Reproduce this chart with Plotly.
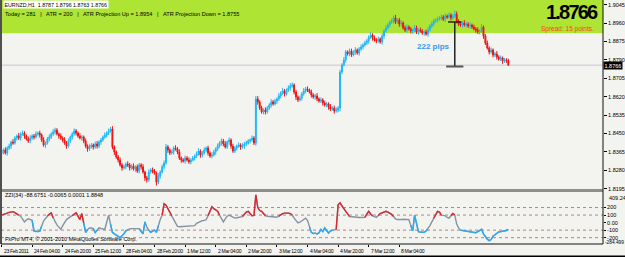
import plotly.graph_objects as go

# ---------------- data ----------------
first_open = 1.8355
closes = [
    1.8365, 1.8374, 1.8360, 1.8383, 1.8392, 1.8411, 1.8406, 1.8429, 1.8439, 1.8429,
    1.8448, 1.8452, 1.8439, 1.8425, 1.8416, 1.8429, 1.8439, 1.8434, 1.8448, 1.8452,
    1.8443, 1.8420, 1.8397, 1.8406, 1.8425, 1.8434, 1.8448, 1.8457, 1.8466, 1.8448,
    1.8439, 1.8429, 1.8420, 1.8406, 1.8392, 1.8416, 1.8434, 1.8448, 1.8462, 1.8452,
    1.8439, 1.8429, 1.8434, 1.8416, 1.8392, 1.8379, 1.8388, 1.8397, 1.8388, 1.8402,
    1.8392, 1.8411, 1.8420, 1.8434, 1.8443, 1.8452, 1.8462, 1.8471, 1.8388, 1.8365,
    1.8342, 1.8328, 1.8305, 1.8291, 1.8296, 1.8309, 1.8305, 1.8291, 1.8300, 1.8286,
    1.8296, 1.8277, 1.8305, 1.8296, 1.8272, 1.8245, 1.8236, 1.8272, 1.8282, 1.8277,
    1.8268, 1.8226, 1.8254, 1.8272, 1.8296, 1.8314, 1.8388, 1.8374, 1.8360, 1.8365,
    1.8383, 1.8379, 1.8365, 1.8337, 1.8328, 1.8323, 1.8337, 1.8328, 1.8319, 1.8328,
    1.8337, 1.8346, 1.8356, 1.8369, 1.8351, 1.8360, 1.8374, 1.8383, 1.8360, 1.8346,
    1.8351, 1.8365, 1.8379, 1.8392, 1.8406, 1.8416, 1.8402, 1.8388, 1.8411, 1.8420,
    1.8392, 1.8369, 1.8383, 1.8392, 1.8397, 1.8388, 1.8392, 1.8402, 1.8406, 1.8416,
    1.8420, 1.8429, 1.8406, 1.8610, 1.8596, 1.8568, 1.8550, 1.8559, 1.8550, 1.8568,
    1.8582, 1.8596, 1.8587, 1.8600, 1.8610, 1.8624, 1.8637, 1.8647, 1.8633, 1.8651,
    1.8661, 1.8670, 1.8674, 1.8642, 1.8619, 1.8605, 1.8614, 1.8633, 1.8647, 1.8656,
    1.8651, 1.8642, 1.8628, 1.8619, 1.8624, 1.8610, 1.8600, 1.8605, 1.8591, 1.8582,
    1.8587, 1.8573, 1.8563, 1.8568, 1.8554, 1.8559, 1.8568, 1.8734, 1.8767, 1.8790,
    1.8827, 1.8818, 1.8831, 1.8813, 1.8827, 1.8836, 1.8822, 1.8841, 1.8850, 1.8859,
    1.8868, 1.8878, 1.8896, 1.8905, 1.8891, 1.8882, 1.8878, 1.8887, 1.8873, 1.8901,
    1.8924, 1.8938, 1.8951, 1.8965, 1.8970, 1.8984, 1.8965, 1.8975, 1.8956, 1.8961,
    1.8938, 1.8928, 1.8942, 1.8933, 1.8924, 1.8928, 1.8938, 1.8919, 1.8928, 1.8924,
    1.8915, 1.8919, 1.8910, 1.8928, 1.8947, 1.8956, 1.8970, 1.8975, 1.8979, 1.8984,
    1.8988, 1.8979, 1.8993, 1.8988, 1.8998, 1.8984, 1.8993, 1.9002, 1.8970, 1.8956,
    1.8951, 1.8961, 1.8951, 1.8956, 1.8947, 1.8951, 1.8942, 1.8933, 1.8928, 1.8919,
    1.8924, 1.8942, 1.8901, 1.8868, 1.8845, 1.8827, 1.8836, 1.8813, 1.8818, 1.8804,
    1.8794, 1.8799, 1.8785, 1.8790, 1.8787, 1.8766,
]
wick_up_pips = [
    10, 7, 12, 8, 11, 6, 13, 9, 7, 14, 8, 12, 9, 7, 11, 13, 8, 9, 12, 7,
    11, 8, 13, 7, 9, 12, 8, 14, 11, 9, 7, 12, 8, 13, 9, 11, 7, 8, 12, 9,
    8, 13, 9, 7, 11, 8, 12, 9, 7, 11, 13, 8, 9, 7, 12, 8, 11, 9, 13, 8,
    7, 9, 12, 8, 11, 7, 13, 9, 8, 12, 7, 11, 9, 8, 13, 7, 9, 12, 8, 11,
    9, 7, 13, 8, 11, 12, 14, 9, 7, 11, 8, 13, 9, 12, 7, 8, 11, 9, 12, 8,
    9, 7, 11, 13, 8, 9, 12, 7, 11, 8, 13, 9, 7, 12, 8, 11, 9, 13, 7, 12,
    8, 11, 9, 7, 12, 8, 13, 9, 11, 8, 7, 12, 9, 14, 13, 8, 11, 7, 12, 9,
    8, 13, 9, 11, 7, 12, 8, 14, 9, 7, 11, 13, 12, 8, 9, 7, 11, 8, 13, 9,
    12, 7, 11, 8, 9, 13, 7, 12, 8, 11, 9, 7, 13, 8, 11, 12, 9, 11, 8, 13,
    9, 7, 12, 11, 8, 13, 7, 9, 12, 8, 11, 9, 7, 13, 8, 12, 9, 11, 7, 12,
    8, 13, 9, 7, 12, 11, 14, 8, 9, 13, 7, 11, 12, 8, 9, 7, 13, 11, 8, 12,
    9, 7, 11, 13, 8, 12, 9, 7, 11, 8, 13, 9, 12, 7, 11, 8, 9, 16, 12, 8,
    11, 7, 13, 9, 8, 12, 7, 11, 9, 13, 8, 14, 7, 9, 12, 8, 11, 7, 9, 13,
    8, 11, 7, 9, 8, 9,
]
wick_dn_pips = [
    8, 11, 7, 12, 9, 13, 8, 7, 11, 9, 12, 8, 13, 7, 9, 11, 8, 12, 7, 9,
    12, 9, 8, 13, 7, 11, 9, 8, 12, 7, 13, 9, 11, 8, 12, 7, 9, 13, 8, 11,
    9, 7, 12, 11, 8, 13, 9, 7, 12, 8, 11, 9, 13, 7, 8, 12, 9, 7, 11, 14,
    9, 12, 8, 13, 7, 11, 9, 12, 8, 7, 13, 9, 11, 12, 8, 14, 13, 9, 7, 11,
    8, 16, 9, 12, 7, 11, 8, 13, 9, 7, 12, 8, 11, 9, 13, 7, 12, 8, 9, 11,
    7, 12, 9, 8, 13, 11, 7, 9, 12, 8, 11, 7, 13, 9, 8, 12, 11, 7, 9, 13,
    12, 8, 9, 11, 7, 13, 8, 12, 9, 7, 11, 8, 9, 12, 13, 9, 8, 11, 12, 7,
    9, 12, 8, 7, 13, 9, 11, 8, 12, 7, 9, 13, 8, 11, 14, 9, 7, 12, 8, 11,
    9, 7, 12, 8, 13, 11, 7, 9, 12, 8, 11, 13, 9, 7, 12, 8, 11, 14, 9, 7,
    12, 8, 11, 9, 7, 13, 8, 12, 9, 11, 7, 9, 13, 8, 12, 7, 11, 9, 8, 12,
    13, 7, 9, 11, 8, 12, 9, 7, 13, 11, 8, 9, 12, 7, 11, 13, 8, 9, 12, 7,
    9, 13, 8, 12, 7, 11, 9, 8, 12, 7, 11, 9, 13, 8, 7, 12, 9, 8, 11, 9,
    8, 12, 7, 11, 9, 13, 8, 7, 12, 9, 11, 8, 13, 9, 7, 12, 8, 11, 9, 12,
    7, 9, 13, 8, 11, 3,
]
zzi = [
    100, 105, 110, 125, 135, 142, 145, 132, 120, 100,
    85, 45, 10, 35, 50, 40, 30, -110, -118, -120,
    -115, -50, 20, 55, 90, 115, 130, 60, 15, -30,
    -60, -90, -40, 10, 40, 60, 75, 90, 110, 130,
    85, 40, 120, -10, -130, -95, -70, -72, -80, -130,
    -100, -70, -78, -85, -90, 5, 100, -20, -130, -150,
    -170, -185, -200, -175, -150, -110, -95, -85, -80, -82,
    -78, -80, -80, -120, -150, 10, -60, -100, -130, -115,
    -100, -130, -40, 40, 100, 250, 230, 190, 140, 90,
    40, -10, -50, -55, -52, -50, -50, -48, -45, -42,
    -40, -40, -10, 5, 20, 25, 30, 40, 90, 150,
    210, 185, 170, 150, 100, 50, 10, 50, 85, 100,
    90, 75, 60, 65, 70, 75, 80, 110, 140, 150,
    120, 90, 95, 370, 200, 160, 150, 120, 90, 85,
    80, 78, 75, 72, 70, 85, 105, 120, 125, 128,
    125, 120, 100, 60, 25, -5, 5, 20, 40, 60,
    30, -60, -130, -145, -140, -150, -135, -90, -120, -70,
    -110, -140, -110, -100, -100, -90, 235, 262, 220, 180,
    150, 115, 80, 75, 72, 70, 70, 68, 70, 68,
    70, 120, 150, 115, 90, 80, 70, 95, 120, 130,
    145, 150, 140, 125, 110, 80, 50, 40, 38, 40,
    45, 42, 40, 40, -40, -110, 100, -20, -120, -125,
    -130, -130, -110, -80, -40, 10, 60, 110, 150, 140,
    100, 95, 90, 70, 60, 90, 120, 100, -20, -70,
    -100, -105, -110, -115, -125, -130, -132, -135, -135, -120,
    -100, -90, -150, -190, -220, -240, -225, -180, -160, -140,
    -125, -120, -118, -115, -105, -89,
]
x_tick_bars = [0, 16, 32, 48, 64, 80, 96, 112, 128, 144, 160, 176, 192, 208]
x_tick_labels = ["23 Feb 2011", "24 Feb 04:00", "24 Feb 20:00", "25 Feb 12:00",
                 "28 Feb 04:00", "28 Feb 20:00", "1 Mar 12:00", "2 Mar 04:00",
                 "2 Mar 20:00", "3 Mar 12:00", "4 Mar 04:00", "4 Mar 20:00",
                 "7 Mar 12:00", "8 Mar 04:00"]
price_ticks = [1.9045, 1.8960, 1.8875, 1.8790, 1.8705, 1.8620, 1.8535,
               1.8450, 1.8365, 1.8280, 1.8195]
zzi_max = 409.24
zzi_min = -284.499
zzi_ticks = [200, 100, 0, -100, -200]
zzi_tick_labels = ["200", "100", "0.00", "-100", "-200"]
zzi_levels = [200, 100, -100, -200]
bid_price = 1.8766
green_zone_low = 1.8913
bracket_bar = 237
bracket_top = 1.8965
bracket_bottom = 1.8760
pips_label_bar = 226
pips_label_price = 1.8850

assert len(closes) == len(wick_up_pips) == len(wick_dn_pips) == len(zzi) == 266

# ---------------- derived ----------------
n = len(closes)
bars = list(range(n))
opens = [first_open] + closes[:-1]
highs = [round(max(o, c) + u / 10000, 4) for o, c, u in zip(opens, closes, wick_up_pips)]
lows = [round(min(o, c) - d / 10000, 4) for o, c, d in zip(opens, closes, wick_dn_pips)]

def masked(vals, test):
    out = []
    for i, v in enumerate(vals):
        near = test(v) or (i > 0 and test(vals[i - 1])) or (i < len(vals) - 1 and test(vals[i + 1]))
        out.append(v if near else None)
    return out

zzi_red = masked(zzi, lambda v: v > 100)
zzi_blue = masked(zzi, lambda v: v < -100)

UP = "#1FB7F5"
DN = "#EE1414"
BG = "#F3F3EF"
FONT = "Liberation Sans, Arial, sans-serif"

Y_TOP = 1.9067
Y_BOT = 1.81915

fig = go.Figure()
fig.add_trace(go.Candlestick(
    x=bars, open=opens, high=highs, low=lows, close=closes,
    increasing=dict(line=dict(color=UP, width=1), fillcolor=UP),
    decreasing=dict(line=dict(color=DN, width=1), fillcolor=DN),
    whiskerwidth=0, showlegend=False, hoverinfo="skip",
    xaxis="x", yaxis="y"))
fig.add_trace(go.Scatter(x=bars, y=zzi, mode="lines",
                         line=dict(color="#8592A4", width=1.4),
                         xaxis="x2", yaxis="y2", showlegend=False, hoverinfo="skip"))
fig.add_trace(go.Scatter(x=bars, y=zzi_red, mode="lines", connectgaps=False,
                         line=dict(color="#DC2830", width=1.4),
                         xaxis="x2", yaxis="y2", showlegend=False, hoverinfo="skip"))
fig.add_trace(go.Scatter(x=bars, y=zzi_blue, mode="lines", connectgaps=False,
                         line=dict(color="#2AAAF0", width=1.4),
                         xaxis="x2", yaxis="y2", showlegend=False, hoverinfo="skip"))

shapes = []
shapes.append(dict(type="rect", xref="paper", yref="y", x0=0, x1=1,
                   y0=green_zone_low, y1=Y_TOP, fillcolor="#AEE534",
                   line=dict(width=0), layer="below"))
shapes.append(dict(type="line", xref="paper", yref="y", x0=0, x1=1,
                   y0=bid_price, y1=bid_price, line=dict(color="#C6C6D2", width=1),
                   layer="below"))
for lv in zzi_levels:
    shapes.append(dict(type="line", xref="paper", yref="y2", x0=0, x1=1,
                       y0=lv, y1=lv, line=dict(color="#B08686", width=1, dash="dot"),
                       layer="below"))
shapes.append(dict(type="line", xref="x", yref="y", x0=bracket_bar, x1=bracket_bar,
                   y0=bracket_bottom, y1=bracket_top, line=dict(color="#222222", width=1.5)))
shapes.append(dict(type="line", xref="x", yref="y", x0=bracket_bar - 3.5, x1=bracket_bar + 3.5,
                   y0=bracket_top, y1=bracket_top, line=dict(color="#222222", width=1.5)))
shapes.append(dict(type="line", xref="x", yref="y", x0=bracket_bar - 4.5, x1=bracket_bar + 4.5,
                   y0=bracket_bottom, y1=bracket_bottom, line=dict(color="#555555", width=2)))
shapes.append(dict(type="line", xref="paper", yref="paper", x0=0, x1=1,
                   y0=0.2193, y1=0.2193, line=dict(color="#8E8E8E", width=3)))
shapes.append(dict(type="line", xref="paper", yref="paper", x0=0, x1=0,
                   y0=0, y1=1, line=dict(color="#505050", width=2)))
shapes.append(dict(type="line", xref="paper", yref="paper", x0=1, x1=1,
                   y0=0, y1=1, line=dict(color="#111111", width=1)))
shapes.append(dict(type="line", xref="paper", yref="paper", x0=0, x1=1,
                   y0=0, y1=0, line=dict(color="#111111", width=1)))
shapes.append(dict(type="line", xref="paper", yref="paper", x0=-0.01, x1=1.05,
                   y0=-0.051, y1=-0.051, line=dict(color="#000000", width=2)))

ann = []
ann.append(dict(xref="paper", yref="paper", x=0.004, y=1.0, xanchor="left", yanchor="top",
                text="EURNZD,H1  1.8787 1.8796 1.8763 1.8766", showarrow=False,
                font=dict(family=FONT, size=5.3, color="#000000"),
                bgcolor="#FFFFFF", borderpad=0.5))
ann.append(dict(xref="paper", yref="paper", x=0.004, y=0.965, xanchor="left", yanchor="top",
                text="Today = 281   |   ATR = 200   |   ATR Projection Up = 1.8954   |   ATR Projection Down = 1.8755",
                showarrow=False, font=dict(family=FONT, size=5.6, color="#000000")))
ann.append(dict(xref="paper", yref="paper", x=0.995, y=0.952, xanchor="right", yanchor="middle",
                text='<span style="letter-spacing:-1.8px">1.8766</span>', showarrow=False,
                font=dict(family="Liberation Sans, Arial", size=20, color="#000000", weight="bold")))
ann.append(dict(xref="paper", yref="paper", x=0.988, y=0.881, xanchor="right", yanchor="middle",
                text="Spread: 15 points.", showarrow=False,
                font=dict(family=FONT, size=6.5, color="#F04A10")))
ann.append(dict(xref="x", yref="y", x=pips_label_bar, y=pips_label_price, xanchor="center",
                yanchor="middle", text="<b>222 pips</b>", showarrow=False,
                font=dict(family=FONT, size=8, color="#3399F0")))
ann.append(dict(xref="paper", yref="paper", x=0.004, y=0.2, xanchor="left", yanchor="middle",
                text="ZZI(34) -88.6751 -0.0065 0.0001 1.8848", showarrow=False,
                font=dict(family=FONT, size=5.5, color="#000000")))
ann.append(dict(xref="paper", yref="paper", x=0.004, y=0.001, xanchor="left", yanchor="bottom",
                text="FxPro MT4, © 2001-2010 MetaQuotes Software Corp.", showarrow=False,
                font=dict(family=FONT, size=5.5, color="#000000")))
ann.append(dict(xref="paper", yref="y", x=1.0, y=bid_price, xanchor="left", yanchor="middle",
                text="1.8766", showarrow=False, bgcolor="#000000", borderpad=0.5,
                font=dict(family=FONT, size=5.5, color="#FFFFFF")))
ann.append(dict(xref="paper", yref="y2", x=1.0, y=zzi_max, xanchor="left", yanchor="top",
                xshift=4, yshift=-1, text=f"{zzi_max:.2f}", showarrow=False,
                font=dict(family=FONT, size=5.5, color="#000000")))
ann.append(dict(xref="paper", yref="y2", x=1.0, y=zzi_min, xanchor="left", yanchor="bottom",
                xshift=0, yshift=-3, text=f"{zzi_min:.3f}", showarrow=False,
                font=dict(family=FONT, size=4.8, color="#000000")))
for b, t in zip(x_tick_bars, x_tick_labels):
    ann.append(dict(xref="x", yref="paper", x=b, y=-0.008, xanchor="left", yanchor="top",
                    text=f'<span style="letter-spacing:-0.35px">{t}</span>', showarrow=False,
                    font=dict(family=FONT, size=5.1, color="#000000")))

fig.update_layout(
    width=625, height=257,
    margin=dict(l=1, r=22, t=0, b=13),
    paper_bgcolor=BG, plot_bgcolor=BG,
    showlegend=False,
    shapes=shapes, annotations=ann,
    xaxis=dict(domain=[0, 1], range=[-0.26, 314.5], anchor="y", showticklabels=False,
               showgrid=False, zeroline=False, rangeslider=dict(visible=False), ticks=""),
    xaxis2=dict(domain=[0, 1], matches="x", anchor="y2", tickmode="array", tickvals=x_tick_bars,
                ticks="outside", ticklen=2, tickcolor="#000000", showticklabels=False,
                showgrid=False, zeroline=False),
    yaxis=dict(domain=[0.2234, 1], range=[Y_BOT, Y_TOP], side="right", anchor="x",
               tickmode="array", tickvals=price_ticks, ticktext=[f"{v:.4f}" for v in price_ticks],
               ticks="outside", ticklen=3, tickcolor="#000000",
               tickfont=dict(family=FONT, size=5.5, color="#000000"),
               showgrid=False, zeroline=False),
    yaxis2=dict(domain=[0, 0.214], range=[zzi_min, zzi_max], side="right", anchor="x2",
                tickmode="array", tickvals=zzi_ticks, ticktext=zzi_tick_labels,
                ticks="outside", ticklen=2, tickcolor="#000000",
                tickfont=dict(family=FONT, size=5.5, color="#000000"),
                showgrid=False, zeroline=False),
)

fig.write_html("out.html")
